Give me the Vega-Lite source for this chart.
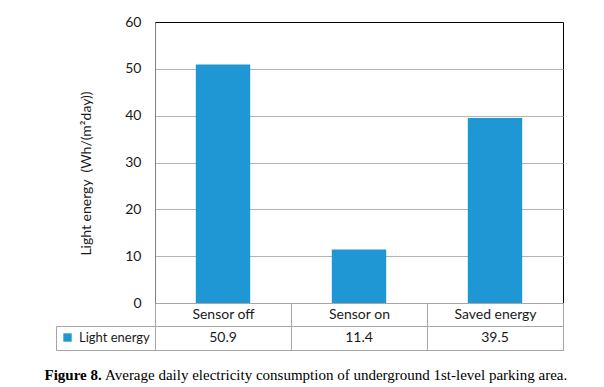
{
  "$schema": "https://vega.github.io/schema/vega-lite/v6.json",
  "autosize": {"type": "pad"},
  "padding": {"left": 44, "top": 14, "right": 5, "bottom": 5},
  "background": "white",
  "config": {
    "font": "Lato",
    "view": {"stroke": null}
  },
  "title": {
    "text": "Average daily electricity consumption of underground 1st-level parking area.",
    "orient": "bottom",
    "font": "Liberation Serif",
    "fontSize": 15,
    "fontWeight": "normal",
    "color": "#000000",
    "offset": 0,
    "dy": -15,
    "dx": 61,
    "anchor": "start"
  },
  "datasets": {
    "energy": [
      {"category": "Sensor off", "value": 50.9, "series": "Light energy"},
      {"category": "Sensor on", "value": 11.4, "series": "Light energy"},
      {"category": "Saved energy", "value": 39.5, "series": "Light energy"}
    ]
  },
  "spacing": 23,
  "bounds": "flush",
  "resolve": {"scale": {"color": "independent"}, "legend": {"color": "independent"}},
  "vconcat": [
    {
      "width": 408,
      "height": 281,
      "data": {"name": "energy"},
      "view": {"stroke": "#000000", "strokeWidth": 1},
      "mark": {"type": "bar", "width": {"band": 0.4}, "color": "#1f97d4"},
      "encoding": {
        "x": {
          "field": "category",
          "type": "nominal",
          "sort": null,
          "scale": {"paddingInner": 0, "paddingOuter": 0},
          "axis": {
            "title": null,
            "labelAngle": 0,
            "tickBand": "extent",
            "tickSize": 23,
            "tickColor": "#a6a6a6",
            "domainColor": "#a6a6a6",
            "labelPadding": -11.5,
            "labelBaseline": "middle",
            "labelFontSize": 14,
            "labelColor": "#1a1a1a",
            "labelFont": "Lato",
            "grid": false
          }
        },
        "y": {
          "field": "value",
          "type": "quantitative",
          "scale": {"domain": [0, 60]},
          "axis": {
            "values": [0, 10, 20, 30, 40, 50, 60],
            "title": "Light energy\u00a0 (Wh/(m²day))",
            "grid": true,
            "gridColor": {"condition": {"test": "datum.value === 60", "value": "transparent"}, "value": "#b4b4b4"},
            "gridWidth": 1.2,
            "ticks": false,
            "domainColor": "#808080",
            "labelPadding": 14,
            "labelFontSize": 14,
            "labelColor": "#1a1a1a",
            "labelFont": "Lato",
            "titleFont": "Lato",
            "titleFontSize": 14,
            "titleFontWeight": "normal",
            "titleColor": "#1a1a1a",
            "titlePadding": 31,
            "titleY": 151
          }
        }
      }
    },
    {
      "width": 408,
      "height": 24,
      "data": {"name": "energy"},
      "view": {"stroke": "#a6a6a6", "strokeWidth": 1},
      "title": {
        "text": "Figure 8.",
        "orient": "bottom",
        "anchor": "start",
        "font": "Liberation Serif",
        "fontSize": 15,
        "fontWeight": "bold",
        "color": "#000000",
        "offset": 17,
        "dx": -11
      },
      "encoding": {
        "x": {
          "field": "category",
          "type": "nominal",
          "sort": null,
          "scale": {"paddingInner": 0, "paddingOuter": 0},
          "axis": {
            "orient": "top",
            "title": null,
            "labels": false,
            "ticks": false,
            "domain": false,
            "grid": true,
            "tickBand": "extent",
            "gridColor": "#a6a6a6",
            "gridWidth": 1
          }
        }
      },
      "layer": [
        {
          "mark": {"type": "square", "opacity": 0, "size": 64},
          "encoding": {
            "color": {
              "field": "series",
              "type": "nominal",
              "scale": {"range": ["#1f97d4"]},
              "legend": {
                "title": null,
                "orient": "left",
                "offset": 0,
                "strokeColor": "#a6a6a6",
                "padding": 5,
                "symbolType": "square",
                "symbolSize": 70,
                "symbolOpacity": 1,
                "symbolStrokeWidth": 0,
                "symbolFillColor": "#1f97d4",
                "labelFontSize": 13,
                "labelColor": "#1a1a1a",
                "labelFont": "Lato",
                "labelOffset": 5
              }
            }
          }
        },
        {
          "mark": {"type": "text", "fontSize": 14, "color": "#1a1a1a", "font": "Lato"},
          "encoding": {
            "text": {"field": "value", "type": "quantitative", "format": ".1f"}
          }
        }
      ]
    }
  ]
}
